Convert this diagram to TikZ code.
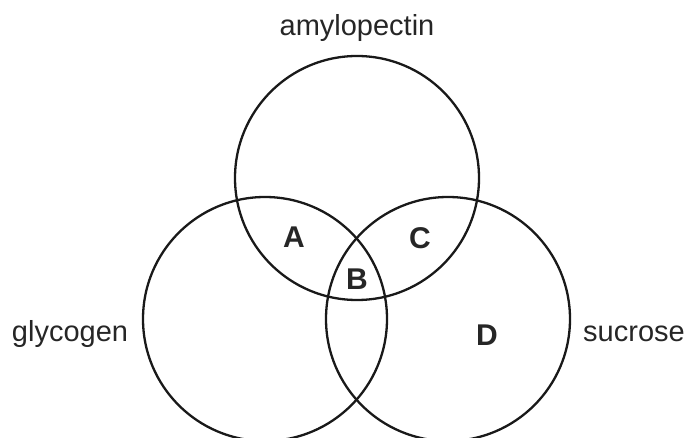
\documentclass[tikz,border=0pt]{standalone}
\usepackage{fontspec}
\setmainfont{Liberation Sans}
\usepackage{tikz}
\usetikzlibrary{positioning}
\tikzset{
  venn/.style={circle,draw=black!90,line width=2.3pt,minimum size=244pt,inner sep=0pt},
  setlbl/.style={font=\fontsize{29}{32}\selectfont,anchor=base,text=black!85},
  regn/.style={font=\fontsize{30}{32}\selectfont\bfseries,text=black!85},
}
\begin{document}
\begin{tikzpicture}[x=1pt,y=-1pt]
  \clip (0,0) rectangle (690,438);
  \useasboundingbox (0,0) rectangle (690,438);
  % the three sets
  \node[venn] (amy) at (357,178) {};
  \node[venn] (gly) at (265,319) {};
  \node[venn] (suc) at (448,319) {};
  % set names
  \node[setlbl] (amyl) at (357,36) {amylopectin};
  \node[setlbl] (glyl) at (70,341) {glycogen};
  \node[setlbl] (sucl) at (634,341) {sucrose};
  % regions
  \node[regn] (ra) at (294,237) {A};
  \node[regn] (rb) at (357,279) {B};
  \node[regn] (rc) at (420,238) {C};
  \node[regn] (rd) at (487,335) {D};
\end{tikzpicture}
\end{document}
